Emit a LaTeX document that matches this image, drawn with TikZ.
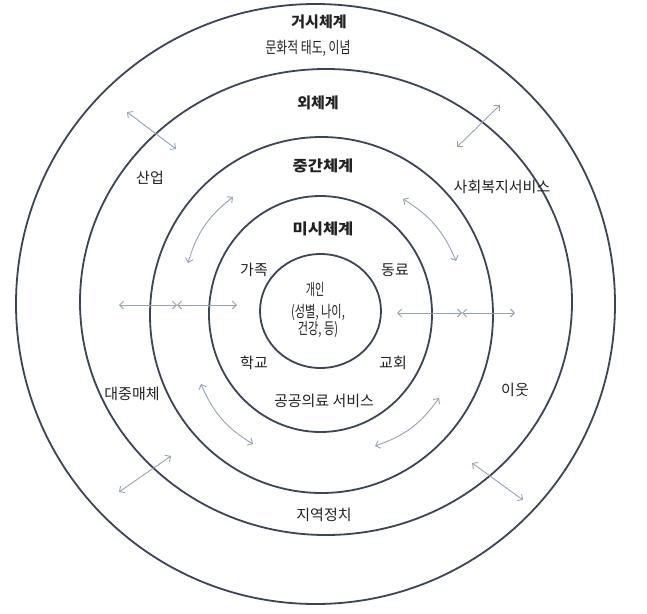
\documentclass[tikz,border=0pt]{standalone}
\usepackage{fontspec}
\setmainfont{Noto Sans CJK KR}
\usetikzlibrary{arrows.meta,shapes.geometric}
\definecolor{ringc}{HTML}{3B4555}
\definecolor{arrc}{HTML}{95A2B4}
\definecolor{txt}{HTML}{222222}
\begin{document}
\begin{tikzpicture}[x=1pt,y=-1pt,
 ring/.style={ellipse,draw=ringc,line width=1.8pt,inner sep=0pt},
 lab/.style={font=\fontsize{15}{16}\selectfont,text=txt,inner sep=0pt,align=center},
 narrow/.style={font=\fontsize{16}{12}\selectfont,text=txt,inner sep=0pt,align=center},
 head/.style={font=\fontsize{15}{16}\selectfont\bfseries,text=txt,inner sep=0pt},
 tipb/.tip={Straight Barb[length=4pt,width=8pt]},
 dbl/.style={draw=arrc,line width=0.9pt,tipb-tipb}]
\useasboundingbox (0,0) rectangle (647,613);
\fill[white] (0,0) rectangle (647,613);
% rings
\node[ring,minimum width=599pt,minimum height=600pt] (macro) at (315.5,304) {};
\node[ring,minimum width=492pt,minimum height=466pt] (exo) at (326,302) {};
\node[ring,minimum width=343pt,minimum height=356pt] (meso) at (321.5,315) {};
\node[ring,minimum width=223pt,minimum height=236pt] (micro) at (320.5,314) {};
\node[ring,minimum width=121pt,minimum height=114pt] (indiv) at (320.5,311) {};
% headings
\node[head] (hmacro) at (319,22) {거시체계};
\node[narrow] (culture) at (308,48) {\scalebox{0.74}[1]{문화적 태도, 이념}};
\node[head] (hexo) at (318,103) {외체계};
\node[head] (hmeso) at (323,166) {\scalebox{1.1}[1]{중간체계}};
\node[head] (hmicro) at (323,229) {\scalebox{1.1}[1]{미시체계}};
% micro labels
\node[lab] (family) at (254,270) {가족};
\node[lab] (peer) at (395,270) {동료};
\node[lab] (school) at (254,363) {학교};
\node[lab] (church) at (393,363) {교회};
\node[lab] (health) at (324,401) {공공의료 서비스};
\node[narrow] (person) at (315,290) {\scalebox{0.62}[1]{개인}};
\node[narrow] (pinfo) at (318,321) {\scalebox{0.7}[1]{(성별, 나이,}\\\scalebox{0.7}[1]{건강, 등)}};
% exo labels
\node[lab] (industry) at (150,178) {산업};
\node[lab] (welfare) at (502,187) {사회복지서비스};
\node[lab] (media) at (132,394) {대중매체};
\node[lab] (neighbor) at (515,390) {이웃};
\node[lab] (politics) at (324,515) {지역정치};
% straight double arrows
\coordinate (ul1) at (127,112); \coordinate (ul2) at (176,149);
\coordinate (ur1) at (457,147); \coordinate (ur2) at (500,105);
\coordinate (ll1) at (119,492); \coordinate (ll2) at (171,456);
\coordinate (lr1) at (472,463); \coordinate (lr2) at (523,500);
\coordinate (hl1) at (119,305); \coordinate (hl2) at (177,305); \coordinate (hl3) at (237,305);
\coordinate (hr1) at (397,313); \coordinate (hr2) at (462,313); \coordinate (hr3) at (515,313);
\draw[dbl] (ul1) -- (ul2);
\draw[dbl] (ur1) -- (ur2);
\draw[dbl] (ll1) -- (ll2);
\draw[dbl] (lr1) -- (lr2);
\draw[dbl] (hl1) -- (hl2);
\draw[dbl] (hl2) -- (hl3);
\draw[dbl] (hr1) -- (hr2);
\draw[dbl] (hr2) -- (hr3);
% curved double arrows
\coordinate (cul1) at (188,263); \coordinate (cul2) at (233,197);
\coordinate (cur1) at (403,199); \coordinate (cur2) at (456,261);
\coordinate (cll1) at (201,384); \coordinate (cll2) at (253,444);
\coordinate (clr1) at (439,398); \coordinate (clr2) at (375,446);
\draw[dbl] (cul1) to[bend left=18] (cul2);
\draw[dbl] (cur1) to[bend left=18] (cur2);
\draw[dbl] (cll1) to[bend right=18] (cll2);
\draw[dbl] (clr1) to[bend left=18] (clr2);
\end{tikzpicture}
\end{document}
